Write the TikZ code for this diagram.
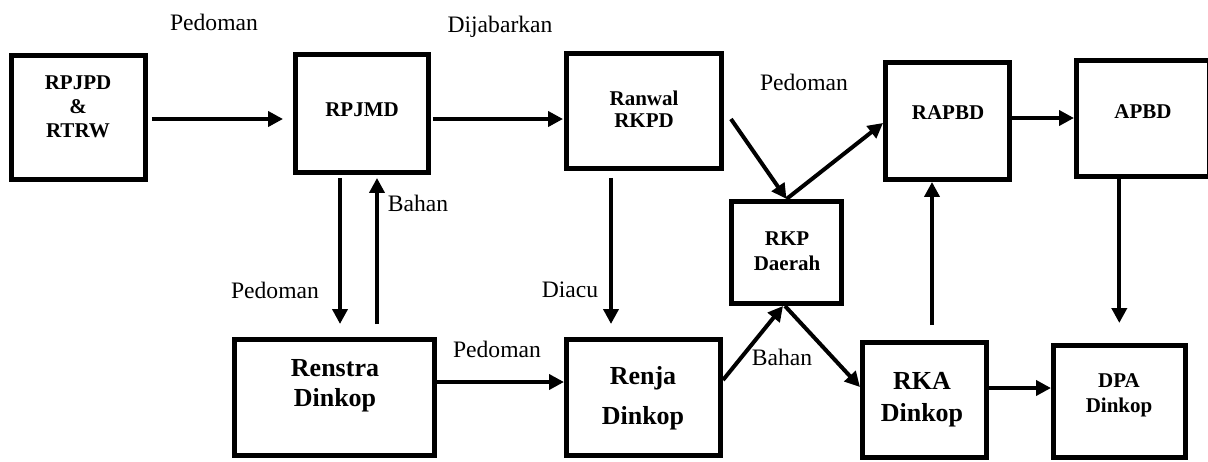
\documentclass[tikz,border=0pt]{standalone}
\usepackage{fontspec}
\setmainfont{Liberation Serif}
\usetikzlibrary{arrows.meta}
\tikzset{
  blok/.style={draw,line width=2.7pt,inner sep=0pt},
  kecil/.style={font=\fontsize{10.5}{12}\selectfont\bfseries,align=center},
  besar/.style={font=\fontsize{13}{15}\selectfont\bfseries,align=center},
  ket/.style={font=\fontsize{11.8}{14}\selectfont},
  panah/.style={line width=2pt,-{Triangle[length=7.5pt,width=7.5pt]}}
}
\begin{document}
\begin{tikzpicture}[x=0.5pt,y=-0.5pt]
    \useasboundingbox (0,0) rectangle (1208,461);
    \node[blok,minimum width=66.75pt,minimum height=61.75pt] (rpjpd) at (78.5,117.5) {};
    \node[blok,minimum width=66.25pt,minimum height=58.75pt] (rpjmd) at (362,113.5) {};
    \node[blok,minimum width=77.25pt,minimum height=57.25pt] (ranwal) at (644,111) {};
    \node[blok,minimum width=61.75pt,minimum height=58.25pt] (rapbd) at (947.5,121) {};
    \node[blok,minimum width=66.4pt,minimum height=57.8pt] (apbd) at (1143.1,118.5) {};
    \node[blok,minimum width=54.8pt,minimum height=50.8pt] (rkp) at (786.5,252.5) {};
    \node[blok,minimum width=99.8pt,minimum height=57.8pt] (renstra) at (334.5,397.5) {};
    \node[blok,minimum width=76.8pt,minimum height=57.8pt] (renja) at (643.5,397.5) {};
    \node[blok,minimum width=61.8pt,minimum height=57.3pt] (rka) at (924.5,400) {};
    \node[blok,minimum width=65.8pt,minimum height=55.8pt] (dpa) at (1119.5,401.5) {};

    \node[kecil] (rpjpd-t) at (78,107) {RPJPD\\\&\\RTRW};
    \node[kecil] (rpjmd-t) at (362,110) {RPJMD};
    \node[kecil,font=\fontsize{10.5}{11}\selectfont\bfseries] (ranwal-t) at (644,109) {Ranwal\\RKPD};
    \node[kecil] (rapbd-t) at (948,113) {RAPBD};
    \node[kecil] (apbd-t) at (1143,112) {APBD};
    \node[kecil,font=\fontsize{10.5}{12.5}\selectfont\bfseries] (rkp-t) at (787,251) {RKP\\Daerah};
    \node[besar] (renstra-t) at (335,386) {Renstra\\Dinkop};
    \node[besar,font=\fontsize{13}{20}\selectfont\bfseries] (renja-t) at (643,398) {Renja\\Dinkop};
    \node[besar,font=\fontsize{13}{16}\selectfont\bfseries] (rka-t) at (922,400) {RKA\\Dinkop};
    \node[kecil,font=\fontsize{10.5}{12.5}\selectfont\bfseries] (dpa-t) at (1119,395.5) {DPA\\Dinkop};

    \node[ket] (ped1) at (214,22) {Pedoman};
    \node[ket] (dijabar) at (500,27) {Dijabarkan};
    \node[ket] (ped2) at (804,82) {Pedoman};
    \node[ket] (bahan1) at (418,203) {Bahan};
    \node[ket] (ped3) at (275,290) {Pedoman};
    \node[ket] (diacu) at (570,290) {Diacu};
    \node[ket] (ped4) at (497,349) {Pedoman};
    \node[ket] (bahan2) at (782,357) {Bahan};

    \draw[panah,shorten <=2pt,shorten >=5pt] ([yshift=-0.75pt]rpjpd.east) -- ([yshift=-0.75pt]rpjpd.east -| rpjmd.west);
    \draw[panah,shorten <=1pt,shorten >=0.5pt] ([yshift=-2.75pt]rpjmd.east) -- ([yshift=-2.75pt]rpjmd.east -| ranwal.west);
    \draw[panah] ([shift={(3.5pt,-4pt)}]ranwal.east) -- (rkp.north);
    \draw[panah] (rkp.north) -- ([yshift=-1pt]rapbd.west);
    \draw[panah] ([yshift=1.5pt]rapbd.east) -- ([yshift=1.5pt]rapbd.east -| apbd.west);
    \draw[panah,shorten <=1.5pt,shorten >=6.5pt] ([xshift=-11pt]rpjmd.south) -- ([xshift=-11pt]rpjmd.south |- renstra.north);
    \draw[panah,shorten <=6.5pt,shorten >=1.5pt] ([xshift=7.5pt]rpjmd.south |- renstra.north) -- ([xshift=7.5pt]rpjmd.south);
    \draw[panah,shorten <=3.5pt,shorten >=6.5pt] ([xshift=-16.5pt]ranwal.south) -- ([xshift=-16.5pt]ranwal.south |- renja.north);
    \draw[panah] ([yshift=7.75pt]renstra.east) -- ([yshift=7.75pt]renstra.east -| renja.west);
    \draw[panah] ([yshift=8.75pt]renja.east) -- ([xshift=-1.75pt]rkp.south);
    \draw[panah] ([xshift=-0.75pt]rkp.south) -- ([yshift=6.5pt]rka.west);
    \draw[panah,shorten <=7.5pt] ([xshift=3.75pt]rka.north) -- ([xshift=3.75pt]rka.north |- rapbd.south);
    \draw[panah,shorten >=10pt] ([xshift=-11.9pt]apbd.south) -- ([xshift=-11.9pt]apbd.south |- dpa.north);
    \draw[panah] ([yshift=6pt]rka.east) -- ([yshift=6pt]rka.east -| dpa.west);
\end{tikzpicture}
\end{document}
